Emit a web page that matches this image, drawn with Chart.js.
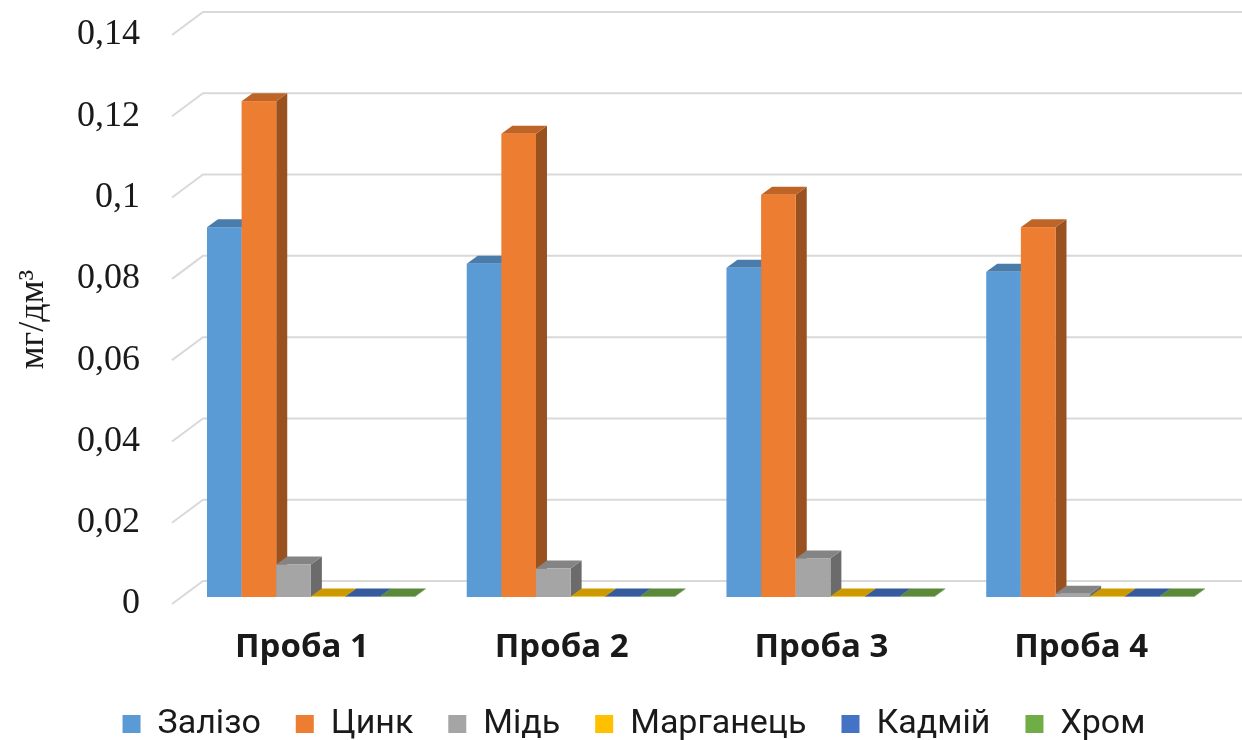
<!DOCTYPE html>
<html>
<head>
<meta charset="utf-8">
<script src="https://cdn.jsdelivr.net/npm/chart.js@4/dist/chart.umd.min.js"></script>
<style>
  html, body { margin: 0; padding: 0; background: #ffffff; }
  canvas { display: block; }
</style>
</head>
<body>
<canvas id="chart" width="1242" height="740"></canvas>
<script>
// Концентрація металів у пробах, мг/дм³
const categories = ['Проба 1', 'Проба 2', 'Проба 3', 'Проба 4'];
const seriesNames = ['Залізо', 'Цинк', 'Мідь', 'Марганець', 'Кадмій', 'Хром'];
const zalizo    = [0.091, 0.082, 0.081, 0.080];
const tsynk     = [0.122, 0.114, 0.099, 0.091];
const mid       = [0.008, 0.007, 0.0095, 0.0008];
const marhanets = [0.0001, 0.0001, 0.0001, 0.0001];
const kadmii    = [0.0001, 0.0001, 0.0001, 0.0001];
const khrom     = [0.0001, 0.0001, 0.0001, 0.0001];
const yTickValues = [0, 0.02, 0.04, 0.06, 0.08, 0.1, 0.12, 0.14];

const seriesValues = [zalizo, tsynk, mid, marhanets, kadmii, khrom];
const seriesColors = ['#5B9BD5', '#ED7D31', '#A5A5A5', '#FFC000', '#4472C4', '#70AD47'];

// Perspective offsets (front edge -> back wall, front edge -> bar front, bar depth)
const WALL = { dx: 31, dy: -23 };
const BAR_FRONT = { dx: 9, dy: -7 };
const BAR_DEPTH = { dx: 11, dy: -8 };

function shade(hex, f) {
  const n = parseInt(hex.slice(1), 16);
  const r = Math.round(((n >> 16) & 255) * f);
  const g = Math.round(((n >> 8) & 255) * f);
  const b = Math.round((n & 255) * f);
  return `rgb(${r},${g},${b})`;
}

// Draws the back-wall gridlines and the 3D columns from the bar elements' geometry
const columns3d = {
  id: 'columns3d',
  beforeDatasetsDraw(chart) {
    const { ctx, chartArea, scales } = chart;
    const y = scales.y;
    ctx.save();

    ctx.strokeStyle = '#D9D9D9';
    ctx.lineWidth = 2;
    yTickValues.forEach(v => {
      const py = y.getPixelForValue(v);
      ctx.beginPath();
      ctx.moveTo(chartArea.left, py);
      ctx.lineTo(chartArea.left + WALL.dx, py + WALL.dy);
      ctx.lineTo(chart.width, py + WALL.dy);
      ctx.stroke();
    });

    const metas = chart.data.datasets.map((d, i) => chart.getDatasetMeta(i));
    for (let c = 0; c < categories.length; c++) {
      metas.forEach((meta, di) => {
        const el = meta.data[c];
        const p = el.getProps(['x', 'y', 'base', 'width'], true);
        const l = p.x - p.width / 2 + BAR_FRONT.dx;
        const r = p.x + p.width / 2 + BAR_FRONT.dx;
        const t = p.y + BAR_FRONT.dy;
        const b = p.base + BAR_FRONT.dy;
        const col = seriesColors[di];

        ctx.fillStyle = shade(col, 0.65);
        ctx.beginPath();
        ctx.moveTo(r, b);
        ctx.lineTo(r, t);
        ctx.lineTo(r + BAR_DEPTH.dx, t + BAR_DEPTH.dy);
        ctx.lineTo(r + BAR_DEPTH.dx, b + BAR_DEPTH.dy);
        ctx.closePath();
        ctx.fill();

        ctx.fillStyle = shade(col, 0.8);
        ctx.beginPath();
        ctx.moveTo(l, t);
        ctx.lineTo(r, t);
        ctx.lineTo(r + BAR_DEPTH.dx, t + BAR_DEPTH.dy);
        ctx.lineTo(l + BAR_DEPTH.dx, t + BAR_DEPTH.dy);
        ctx.closePath();
        ctx.fill();

        ctx.fillStyle = col;
        ctx.fillRect(l, t, r - l, b - t);
      });
    }
    ctx.restore();
    return false;
  }
};

new Chart(document.getElementById('chart'), {
  type: 'bar',
  data: {
    labels: categories,
    datasets: seriesNames.map((name, i) => ({
      label: name,
      data: seriesValues[i],
      backgroundColor: seriesColors[i],
      borderWidth: 0
    }))
  },
  options: {
    responsive: false,
    animation: false,
    events: [],
    categoryPercentage: 0.8,
    barPercentage: 1.0,
    layout: { padding: { left: 57, right: 31, top: 35, bottom: -11 } },
    scales: {
      x: {
        grid: { display: false, drawTicks: false },
        border: { display: false },
        ticks: {
          padding: 24,
          color: '#1a1a1a',
          font: { family: 'Open Sans', size: 33, weight: 'bold' }
        },
        afterFit(scale) { scale.height = 68; }
      },
      y: {
        min: 0,
        max: 0.14,
        grid: { display: false, drawTicks: false },
        border: { display: false },
        afterBuildTicks(scale) { scale.ticks = yTickValues.map(v => ({ value: v })); },
        ticks: {
          padding: 32,
          color: '#1a1a1a',
          font: { family: 'Liberation Serif', size: 36 },
          callback: v => String(+v.toFixed(2)).replace('.', ',')
        },
        title: {
          display: true,
          text: 'мг/дм³',
          color: '#1a1a1a',
          padding: { top: -45, bottom: 0 },
          font: { family: 'Liberation Serif', size: 36 }
        },
        afterFit(scale) {
          scale.width = 115;
          scale.paddingTop = 0;
        }
      }
    },
    plugins: {
      legend: {
        position: 'bottom',
        labels: {
          boxWidth: 18,
          boxHeight: 18,
          padding: 35,
          color: '#1a1a1a',
          font: { family: 'Roboto', size: 34 }
        }
      },
      tooltip: { enabled: false }
    }
  },
  plugins: [columns3d]
});
</script>
</body>
</html>
